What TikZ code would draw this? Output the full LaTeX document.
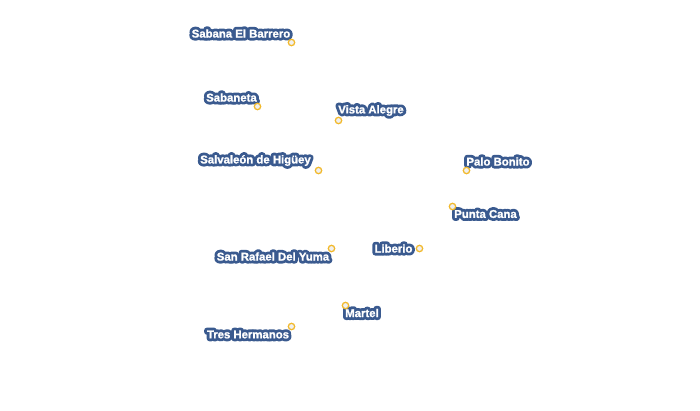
\documentclass[tikz,border=0pt]{standalone}
\usepackage{fontspec}
\setmainfont{Liberation Sans}
\definecolor{halo}{HTML}{3A5A8F}
\definecolor{ptring}{HTML}{F2B92C}
\definecolor{ptfill}{HTML}{F0F0F0}
\newcommand{\halotext}[1]{%
  \leavevmode\rlap{\special{pdf:code q 1 j 1 J 6 w 2 Tr}\textcolor{halo}{\pdfstrokecol #1}\special{pdf:code 0 Tr Q}}\textcolor{white}{\special{pdf:code 2 Tr 0.15 w 1 1 1 RG}#1\special{pdf:code 0 Tr}}}
\newcommand{\pdfstrokecol}{\special{pdf:code 0.227 0.353 0.561 RG}}
\tikzset{
  place/.style={circle,draw=ptring,fill=ptfill,line width=1.3pt,minimum size=6.4pt,inner sep=0pt},
  placelabel/.style={inner sep=0pt,font=\fontsize{11.4}{12}\selectfont\bfseries}
}
\begin{document}
\begin{tikzpicture}[x=1bp,y=-1bp]
\useasboundingbox (0,0) rectangle (700,410);
\node[placelabel] (l1) at (241,33.5) {\halotext{Sabana El Barrero}};
\node[placelabel] (l2) at (231.5,97.5) {\halotext{Sabaneta}};
\node[placelabel] (l3) at (371,110.5) {\halotext{Vista Alegre}};
\node[placelabel] (l4) at (255.5,160.5) {\halotext{Salvaleón de Higüey}};
\node[placelabel] (l5) at (498,161.5) {\halotext{Palo Bonito}};
\node[placelabel] (l6) at (485.5,214) {\halotext{Punta Cana}};
\node[placelabel] (l7) at (393.5,248.5) {\halotext{Liberio}};
\node[placelabel] (l8) at (273,256.5) {\halotext{San Rafael Del Yuma}};
\node[placelabel] (l9) at (362,313) {\halotext{Martel}};
\node[placelabel] (l10) at (248,334.5) {\halotext{Tres Hermanos}};
\node[place] (p1) at (291.5,42.5) {};
\node[place] (p2) at (257.5,106.5) {};
\node[place] (p3) at (338.5,120.5) {};
\node[place] (p4) at (318.5,170.5) {};
\node[place] (p5) at (466.5,170.5) {};
\node[place] (p6) at (452.5,206.5) {};
\node[place] (p7) at (419.5,248.5) {};
\node[place] (p8) at (331.5,248.5) {};
\node[place] (p9) at (345.5,305.5) {};
\node[place] (p10) at (291.5,326.5) {};
\end{tikzpicture}
\end{document}
